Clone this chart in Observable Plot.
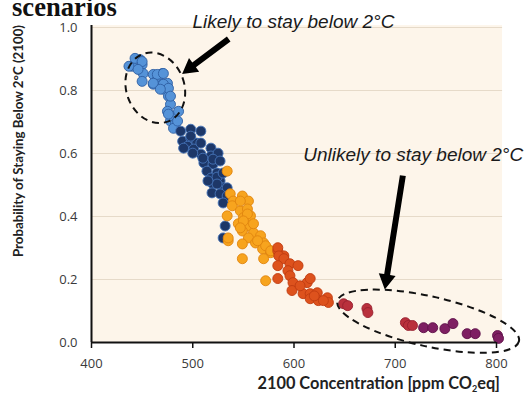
<!DOCTYPE html>
<html><head><meta charset="utf-8">
<script src="https://cdn.jsdelivr.net/npm/d3@7"></script>
<script src="https://cdn.jsdelivr.net/npm/@observablehq/plot@0.6"></script>
<style>
body{margin:0;background:#fff;}
#chart{position:relative;width:527px;height:395px;overflow:hidden;}
</style></head><body><div id="chart"></div>
<script>
// ---- data (2100 concentration ppm CO2eq, probability of staying below 2°C) ----
const lightBlue = [[440,0.877],[448,0.898],[450,0.882],[451,0.854],[450,0.829],[461,0.851],[470,0.854],[465,0.835],[461,0.82],[470,0.82],[475,0.823],[471,0.804],[476,0.782],[478,0.756],[475,0.734],[480,0.718],[478,0.703],[483,0.696],[486,0.734],[481,0.68],[476,0.725],[485,0.703],[443,0.902],[450,0.892],[437,0.877],[446,0.867],[465,0.851],[471,0.854],[461,0.823],[471,0.82],[476,0.807],[468,0.804],[478,0.782]];
const darkBlue = [[488,0.671],[498,0.677],[508,0.671],[490,0.639],[498,0.649],[504,0.633],[495,0.623],[501,0.614],[518,0.617],[508,0.598],[518,0.592],[525,0.601],[511,0.57],[520,0.566],[514,0.544],[524,0.538],[518,0.522],[527,0.513],[520,0.503],[530,0.491],[498,0.655],[508,0.633],[491,0.617],[500,0.601],[510,0.585],[520,0.582],[527,0.576],[524,0.525],[530,0.538],[524,0.503],[534,0.491],[519,0.475],[527,0.472],[534,0.465],[515,0.513],[530,0.443],[532,0.37],[530,0.332]];
const orange = [[534,0.544],[537,0.472],[540,0.449],[539,0.434],[549,0.465],[555,0.449],[547,0.418],[554,0.424],[534,0.402],[550,0.396],[557,0.402],[545,0.377],[554,0.37],[549,0.354],[560,0.348],[555,0.332],[567,0.339],[562,0.316],[570,0.316],[535,0.323],[549,0.313],[574,0.297],[569,0.297],[549,0.266],[577,0.285],[572,0.307],[577,0.291],[570,0.266],[572,0.196],[547,0.449],[554,0.408],[550,0.386],[560,0.377],[547,0.364],[535,0.332],[564,0.323]];
const red = [[584,0.291],[590,0.275],[584,0.301],[585,0.275],[590,0.266],[584,0.244],[596,0.25],[604,0.244],[594,0.228],[596,0.212],[584,0.203],[599,0.19],[613,0.19],[616,0.203],[598,0.165],[609,0.155],[616,0.155],[623,0.158],[616,0.139],[624,0.133],[633,0.142],[634,0.127],[629,0.133],[606,0.18],[620,0.148]];
const darkRed = [[649,0.123],[653,0.117],[672,0.108],[673,0.095],[710,0.063],[713,0.054],[717,0.054]];
const purple = [[728,0.047],[737,0.047],[749,0.044],[757,0.06],[771,0.028],[779,0.028],[801,0.022],[802,0.013]];

const xTicks = [400,500,600,700,800];
const yTicks = [0,0.2,0.4,0.6,0.8,1.0];
const gridTicks = [0.2,0.4,0.6,0.8,1.0];
const panel = [{x1:400, x2:806, y1:0, y2:1.006}];

const titleText = "scenarios";
const yLabel = "Probability of Staying Below 2°C (2100)";
const xLabelParts = ["2100 Concentration [ppm CO", "2", "eq]"];
const notes = [
  {text:"Likely to stay below 2°C", x:499.7, y:1.019},
  {text:"Unlikely to stay below 2°C", x:609.2, y:0.595}
];
const arrows = [
  {x1:536, y1:0.962, x2:490, y2:0.851},
  {x1:708, y1:0.528, x2:690.2, y2:0.167}
];
const ellipses = [
  {cx:463.5, cy:0.807, rx:29, ry:36, rot:-20},
  {cx:733, cy:0.066, rx:93, ry:25, rot:12.5}
];

const groups = [
  {pts: lightBlue, fill:"#5593d8", stroke:"#2f5fa3"},
  {pts: darkBlue, fill:"#1d3768", stroke:"#4674b8"},
  {pts: orange, fill:"#f7a41e", stroke:"#e08410"},
  {pts: red, fill:"#dd521d", stroke:"#c03c12"},
  {pts: darkRed, fill:"#b9303c", stroke:"#962030"},
  {pts: purple, fill:"#7e1f62", stroke:"#5f1249"}
];

const chart = Plot.plot({
  width: 527, height: 395,
  marginTop: 27, marginBottom: 53, marginLeft: 91, marginRight: 31,
  style: {fontFamily: "'Open Sans', sans-serif", fontSize: "13px", color: "#3a3a3a", background: "transparent"},
  x: {domain: [400, 800]},
  y: {domain: [0, 1]},
  marks: [
    Plot.rect(panel, {x1:"x1", x2:"x2", y1:"y1", y2:"y2", fill:"#fdf5ea"}),
    Plot.ruleY(gridTicks, {x1: 400, x2: 806, stroke: "#e6dac9", strokeWidth: 1.2}),
    ...groups.map(g => Plot.dot(g.pts, {x: d => d[0], y: d => d[1], r: 5, fill: g.fill, stroke: g.stroke, strokeWidth: 0.9})),
    Plot.axisX({ticks: xTicks, tickSize: 6, tickPadding: 10, label: null, stroke: "#111", strokeWidth: 1.5, fontSize: 13}),
    Plot.axisY({ticks: yTicks, tickSize: 0, tickPadding: 14, tickFormat: d3.format(".1f"), label: null, fontSize: 13}),
    Plot.ruleY([0], {stroke: "#111", strokeWidth: 2}),
    Plot.ruleX([400], {y1: 0, y2: 1.006, stroke: "#111", strokeWidth: 2}),
    Plot.text(notes, {x: "x", y: "y", text: "text", textAnchor: "start", lineAnchor: "middle", fontSize: 19, fontStyle: "italic", fontFamily: "'Liberation Sans', Arial, sans-serif", fill: "#1a1a1a"})
  ]
});
document.getElementById("chart").appendChild(chart);

const svg = d3.select(chart);
const sx = chart.scale("x"), sy = chart.scale("y");
const X = v => sx.apply(v), Y = v => sy.apply(v);

// fit a text element to a target width by scaling its font size
function fit(sel, target) {
  const node = sel.node();
  const fs = parseFloat(sel.attr("font-size"));
  const w = node.getComputedTextLength();
  if (w > 0) sel.attr("font-size", (fs * target / w).toFixed(2));
}

const ann = svg.append("g");
// arrows
arrows.forEach(a => {
  const ax = X(a.x1), ay = Y(a.y1), bx = X(a.x2), by = Y(a.y2);
  const dx = bx - ax, dy = by - ay, L = Math.hypot(dx, dy);
  const ux = dx / L, uy = dy / L, nx = -uy, ny = ux;
  const w = 6, hw = 17, hl = 15;
  const cx = bx - ux * hl, cy = by - uy * hl;
  const pts = [[ax + nx*w/2, ay + ny*w/2], [cx + nx*w/2, cy + ny*w/2], [cx + nx*hw/2, cy + ny*hw/2], [bx, by],
               [cx - nx*hw/2, cy - ny*hw/2], [cx - nx*w/2, cy - ny*w/2], [ax - nx*w/2, ay - ny*w/2]];
  ann.append("polygon").attr("points", pts.map(p => p.map(v => v.toFixed(1)).join(",")).join(" ")).attr("fill", "#000");
});
// dashed ellipses
ellipses.forEach(e => {
  ann.append("ellipse")
    .attr("transform", `translate(${X(e.cx)},${Y(e.cy)}) rotate(${e.rot})`)
    .attr("rx", e.rx).attr("ry", e.ry)
    .attr("fill", "none").attr("stroke", "#111").attr("stroke-width", 2).attr("stroke-dasharray", "7,5");
});

// title (top edge of the page)
const t = svg.append("text").attr("x", 12).attr("y", 16).attr("text-anchor", "start")
  .attr("font-family", "'Liberation Serif', 'Times New Roman', serif").attr("font-weight", "bold")
  .attr("font-size", 26).attr("fill", "#111").text(titleText);
fit(t, 105);

// y label
const yl = svg.append("text").attr("transform", "translate(23,141) rotate(-90)")
  .attr("text-anchor", "middle").attr("font-family", "Lato, sans-serif").attr("font-weight", "bold")
  .attr("font-size", 13).attr("fill", "#222").text(yLabel);
fit(yl, 232);

// x label with subscript
const xl = svg.append("text").attr("x", 500).attr("y", 389).attr("text-anchor", "end")
  .attr("font-family", "Lato, sans-serif").attr("font-weight", "bold").attr("font-size", 15).attr("fill", "#222");
xl.append("tspan").text(xLabelParts[0]);
xl.append("tspan").attr("font-size", 9).attr("dy", 3).text(xLabelParts[1]);
xl.append("tspan").attr("dy", -3).text(xLabelParts[2]);
fit(xl, 243);
</script>
</body></html>
